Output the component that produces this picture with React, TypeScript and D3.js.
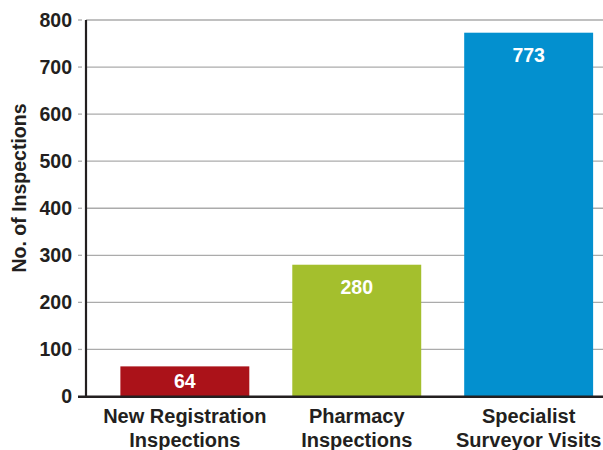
import React from "react";
import * as d3 from "d3";

const categories: string[][] = [
  ["New Registration", "Inspections"],
  ["Pharmacy", "Inspections"],
  ["Specialist", "Surveyor Visits"],
];
const values: number[] = [64, 280, 773];
const colors: string[] = ["#AB1219", "#A4BF2D", "#0390CF"];
const yTicks: number[] = [0, 100, 200, 300, 400, 500, 600, 700, 800];
const yTitle = "No. of Inspections";

export default function App() {
  const W = 603;
  const H = 450;
  const axisX = 86;
  const y = d3.scaleLinear().domain([0, 800]).range([396.5, 20]);
  const x = d3
    .scaleBand<number>()
    .domain(values.map((_, i) => i))
    .range([axisX, 627.5])
    .paddingInner(0.25)
    .paddingOuter(0.2);
  const font = "'Liberation Sans', Arial, Helvetica, sans-serif";
  const textColor = "#231F20";

  return (
    <svg
      width={W}
      height={H}
      style={{ position: "absolute", left: 0, top: 0, display: "block" }}
      fontFamily={font}
    >
      <rect width={W} height={H} fill="#fff" />
      {yTicks.map((t) =>
        t === 0 ? null : (
          <g key={t}>
            <line x1={axisX} x2={W} y1={y(t)} y2={y(t)} stroke="#ABABAB" strokeWidth={1.3} />
            <line x1={78} x2={82} y1={y(t)} y2={y(t)} stroke="#ABABAB" strokeWidth={1.3} />
          </g>
        )
      )}
      {yTicks.map((t) => (
        <text
          key={"l" + t}
          x={72}
          y={y(t)}
          dy="0.35em"
          textAnchor="end"
          fontSize={19.5}
          fontWeight="bold"
          fill={textColor}
        >
          {t}
        </text>
      ))}
      {values.map((v, i) => {
        const x0 = x(i)!;
        const bw = x.bandwidth();
        const top = y(v);
        const bottom = y(0);
        const ly = Math.min(top + 29, (top + bottom) / 2 + 7);
        return (
          <g key={i}>
            <rect x={x0} y={top} width={bw} height={bottom - top} fill={colors[i]} />
            <text
              x={x0 + bw / 2}
              y={ly}
              textAnchor="middle"
              fontSize={19.5}
              fontWeight="bold"
              fill="#fff"
            >
              {v}
            </text>
            {categories[i].map((line, j) => (
              <text
                key={j}
                x={x0 + bw / 2}
                y={422.5 + j * 24}
                textAnchor="middle"
                fontSize={20}
                fontWeight="bold"
                fill={textColor}
              >
                {line}
              </text>
            ))}
          </g>
        );
      })}
      <line x1={axisX} x2={axisX} y1={20} y2={397} stroke={textColor} strokeWidth={2.2} />
      <line x1={78} x2={W} y1={396.8} y2={396.8} stroke={textColor} strokeWidth={2.4} />
      <text
        transform={`translate(26,188) rotate(-90)`}
        textAnchor="middle"
        fontSize={19.5}
        fontWeight="bold"
        fill={textColor}
      >
        {yTitle}
      </text>
    </svg>
  );
}
